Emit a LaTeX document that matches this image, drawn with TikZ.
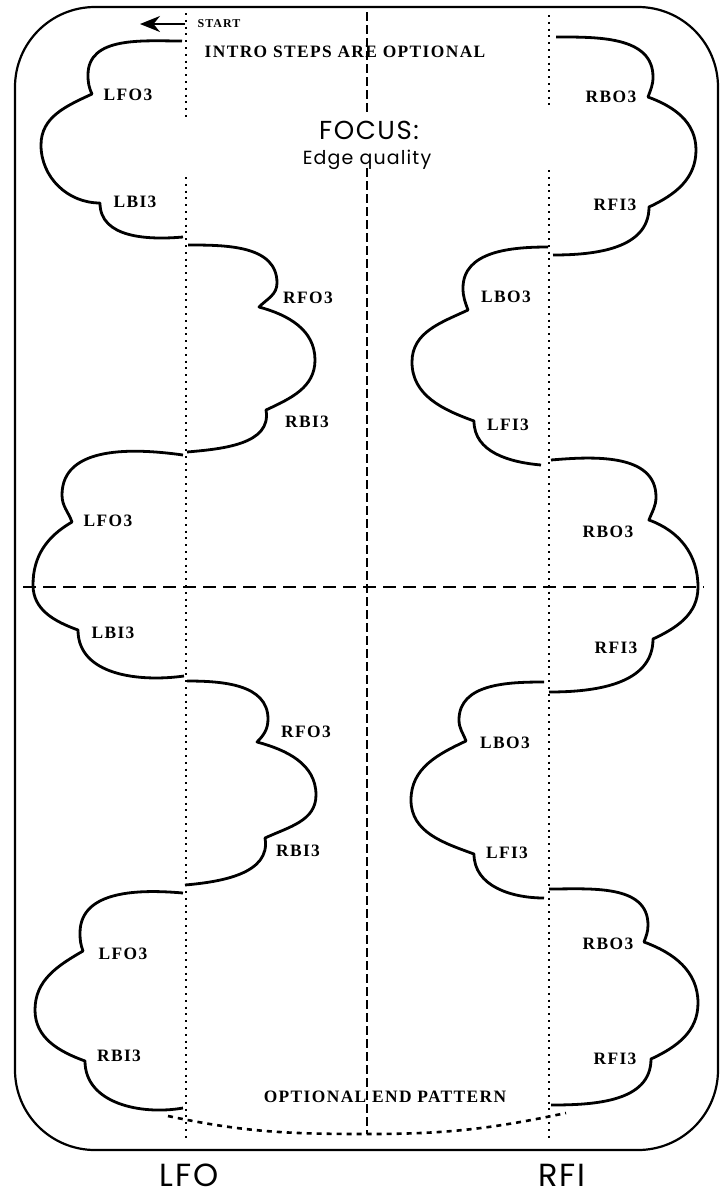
\documentclass[tikz,border=0pt]{standalone}
\usepackage{fontspec}
\usetikzlibrary{arrows.meta}
\newfontfamily\stepfont{Liberation Serif}[LetterSpace=8]
\newfontfamily\focusfont{Poppins}[LetterSpace=6]
\tikzset{>={Stealth[length=10pt,width=8pt]}}
\tikzset{lobe/.style={line width=1.4pt, line join=round},
  lbl/.style={font=\stepfont\bfseries\fontsize{8.7}{10}\selectfont, inner sep=0pt},
  guide/.style={line width=1.1pt, dash pattern=on 1pt off 2.4pt},
  midline/.style={line width=0.8pt, dash pattern=on 4.5pt off 2pt},
  focus/.style={font=\focusfont\fontsize{10}{12}\selectfont, inner sep=0pt}}

\begin{document}
\begin{tikzpicture}[x=0.5pt,y=0.5pt]
    \useasboundingbox (0,0) rectangle (726,-1196);
    \draw[line width=1.1pt, rounded corners=40pt] (15,-7) rectangle (718,-1150);
    \draw[guide] (186,-13) -- (186,-117) (186,-177) -- (186,-1139);
    \draw[guide] (549,-15) -- (549,-108) (549,-170) -- (549,-1139);
    \coordinate (foot) at (367,-1134);
    \draw[midline] (367,-12) -- (367,-114) (367,-168) -- (foot);
    \draw[line width=0.8pt, dash pattern=on 6.5pt off 3.5pt] (23,-587) -- (704,-587);
    \draw[line width=1.3pt, dash pattern=on 2.5pt off 2.5pt] (168,-1116) to[out=-12,in=180] (foot) to[out=0,in=192] (566,-1113);

    \draw[lobe] (182,-41) to[out=180,in=90] (88,-75) to[out=270,in=115] (92,-94)
        to[out=205,in=90] (41,-145) to[out=270,in=180] (100,-203)
        to[out=270,in=185] (183,-237);
    \draw[lobe] (188,-245) to[out=0,in=90] (277,-283) to[out=270,in=45] (259,-307)
        to[out=-15,in=90] (315,-360) to[out=270,in=25] (266,-410)
        to[out=280,in=5] (187,-452);
    \draw[lobe] (183,-455) to[out=172,in=90] (62,-495) to[out=270,in=110] (72,-522)
        to[out=210,in=90] (33,-585) to[out=270,in=160] (78,-630)
        to[out=270,in=188] (184,-676);
    \draw[lobe] (187,-681) to[out=0,in=90] (268,-719) to[out=270,in=45] (257,-742)
        to[out=-15,in=90] (316,-795) to[out=270,in=25] (265,-838)
        to[out=280,in=5] (185,-885);
    \draw[lobe] (183,-893) to[out=175,in=90] (80,-933) to[out=270,in=110] (83,-951)
        to[out=210,in=90] (35,-1010) to[out=270,in=160] (85,-1061)
        to[out=270,in=190] (183,-1108);

    \draw[lobe] (556,-37) to[out=0,in=90] (653,-77) to[out=270,in=70] (648,-97)
        to[out=-20,in=90] (696,-150) to[out=270,in=25] (649,-207)
        to[out=270,in=0] (553,-255);
    \draw[lobe] (548,-247) to[out=180,in=90] (463,-288) to[out=270,in=110] (468,-310)
        to[out=205,in=90] (412,-362) to[out=270,in=160] (474,-421)
        to[out=270,in=175] (541,-465);
    \draw[lobe] (551,-460) to[out=5,in=90] (656,-497) to[out=270,in=70] (649,-520)
        to[out=-20,in=90] (698,-587) to[out=270,in=25] (653,-639)
        to[out=270,in=0] (549,-692);
    \draw[lobe] (544,-682) to[out=180,in=90] (459,-720) to[out=270,in=110] (466,-741)
        to[out=205,in=90] (411,-800) to[out=270,in=160] (474,-854)
        to[out=270,in=180] (544,-898);
    \draw[lobe] (549,-889) to[out=0,in=90] (648,-925) to[out=270,in=70] (644,-942)
        to[out=-20,in=90] (698,-1003) to[out=270,in=25] (651,-1059)
        to[out=270,in=0] (551,-1105);

    \node[lbl, font=\stepfont\bfseries\fontsize{6}{7}\selectfont] (start) at (219,-24) {START};
    \coordinate (tail) at (185,-24);
    \coordinate (tip) at (140,-24);
    \draw[->, line width=1.2pt] (tail) -- (tip);
    \node[lbl] (intro) at (345,-52) {INTRO STEPS ARE OPTIONAL};
    \node[focus, font=\focusfont\fontsize{13}{15}\selectfont] (focus) at (369,-130) {FOCUS:};
    \node[focus, font=\focusfont\fontsize{9.5}{11}\selectfont] (edge) at (367,-160) {Edge quality};
    \node[lbl] (endpat) at (385,-1097) {OPTIONAL END PATTERN};
    \node[focus, anchor=base, font=\focusfont\fontsize{16}{18}\selectfont] (lfo) at (189,-1186) {LFO};
    \node[focus, anchor=base, font=\focusfont\fontsize{16}{18}\selectfont] (rfi) at (562,-1186) {RFI};

    \node[lbl] (lfoA) at (128,-95) {LFO3};
    \node[lbl] (lbiA) at (135,-202) {LBI3};
    \node[lbl] (rfoA) at (308,-298) {RFO3};
    \node[lbl] (rbiA) at (307,-422) {RBI3};
    \node[lbl] (lfoB) at (108,-521) {LFO3};
    \node[lbl] (lbiB) at (113,-633) {LBI3};
    \node[lbl] (rfoB) at (306,-732) {RFO3};
    \node[lbl] (rbiB) at (298,-851) {RBI3};
    \node[lbl] (lfoC) at (123,-954) {LFO3};
    \node[lbl] (rbiC) at (119,-1056) {RBI3};
    \node[lbl] (rboA) at (611,-97) {RBO3};
    \node[lbl] (rfiA) at (615,-205) {RFI3};
    \node[lbl] (lboA) at (506,-297) {LBO3};
    \node[lbl] (lfiA) at (508,-425) {LFI3};
    \node[lbl] (rboB) at (608,-532) {RBO3};
    \node[lbl] (rfiB) at (616,-648) {RFI3};
    \node[lbl] (lboB) at (505,-743) {LBO3};
    \node[lbl] (lfiB) at (507,-853) {LFI3};
    \node[lbl] (rboC) at (608,-944) {RBO3};
    \node[lbl] (rfiC) at (615,-1059) {RFI3};
\end{tikzpicture}
\end{document}
